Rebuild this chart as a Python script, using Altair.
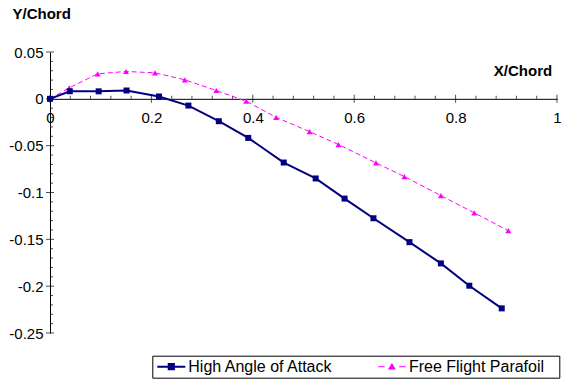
import altair as alt
import pandas as pd

NAVY = "#000080"
MAGENTA = "#FF00FF"
FONT = "Liberation Sans"

series_names = ["High Angle of Attack", "Free Flight Parafoil"]

x_hi = [0, 0.039, 0.096, 0.151, 0.215, 0.273, 0.333, 0.391, 0.461, 0.524,
        0.581, 0.638, 0.709, 0.771, 0.827, 0.891]
y_hi = [0, 0.0081, 0.0080, 0.0089, 0.0025, -0.0072, -0.0239, -0.0417, -0.0680,
        -0.0850, -0.1065, -0.1275, -0.1530, -0.1757, -0.1995, -0.2237]

x_ff = [0, 0.038, 0.094, 0.150, 0.207, 0.266, 0.328, 0.387, 0.446, 0.512,
        0.569, 0.643, 0.699, 0.771, 0.837, 0.904]
y_ff = [0, 0.0118, 0.0267, 0.0292, 0.0278, 0.0203, 0.0089, -0.0026, -0.0197,
        -0.0350, -0.0488, -0.0684, -0.0830, -0.1033, -0.1218, -0.1407]

x_major = [0, 0.2, 0.4, 0.6, 0.8, 1]
x_minor = [0.04, 0.08, 0.12, 0.16, 0.24, 0.28, 0.32, 0.36, 0.44, 0.48, 0.52, 0.56,
           0.64, 0.68, 0.72, 0.76, 0.84, 0.88, 0.92, 0.96]
y_major = [0.05, 0, -0.05, -0.1, -0.15, -0.2, -0.25]
y_minor = [0.04, 0.03, 0.02, 0.01, -0.01, -0.02, -0.03, -0.04, -0.06, -0.07, -0.08,
           -0.09, -0.11, -0.12, -0.13, -0.14, -0.16, -0.17, -0.18, -0.19, -0.21,
           -0.22, -0.23, -0.24]

hi = pd.DataFrame({"x": x_hi, "y": y_hi, "series": series_names[0]})
ff = pd.DataFrame({"x": x_ff, "y": y_ff, "series": series_names[1]})
both = pd.concat([hi, ff], ignore_index=True)

xt_major = pd.DataFrame({"x": x_major, "y": 0.0})
xt_minor = pd.DataFrame({"x": x_minor, "y": 0.0})
yt_major = pd.DataFrame({"x": 0.0, "y": y_major})
yt_minor = pd.DataFrame({"x": 0.0, "y": y_minor})

W, H = 507, 281
Y_LO, Y_HI = -0.25, 0.05
x_offset = -(H - H * (Y_HI / (Y_HI - Y_LO)))

xs = alt.Scale(domain=[0, 1], nice=False, zero=False)
ys = alt.Scale(domain=[Y_LO, Y_HI], nice=False, zero=False)

xaxis = alt.Axis(
    values=x_major, format="~g", grid=False, ticks=False, tickSize=0,
    domainColor="black", domainWidth=1,
    labelFont=FONT, labelFontSize=15, labelColor="black", labelPadding=12,
    labelFlush=False, labelOverlap=False, offset=x_offset,
    title="X/Chord", titleFont=FONT, titleFontSize=15, titleFontWeight="bold",
    titleColor="black", titleAlign="right", titleBaseline="middle",
    titleX=501.7, titleY=-28,
)
yaxis = alt.Axis(
    values=y_major,
    labelExpr="datum.value == 0 ? '0' : (datum.value < 0 ? '-' : '') + format(abs(datum.value), '~g')",
    grid=False, ticks=False, tickSize=0, domainColor="black", domainWidth=1,
    labelFont=FONT, labelFontSize=15, labelColor="black", labelPadding=7,
    labelFlush=False, labelOverlap=False,
    title="Y/Chord", titleFont=FONT, titleFontSize=15, titleFontWeight="bold",
    titleColor="black", titleAngle=0, titleAlign="left", titleBaseline="middle",
    titleX=-38, titleY=-39,
)

X = alt.X("x:Q", scale=xs, axis=xaxis)
Y = alt.Y("y:Q", scale=ys, axis=yaxis)

line_hi = alt.Chart(hi).mark_line(color=NAVY, strokeWidth=2).encode(x=X, y=Y)
pts_hi = alt.Chart(hi).mark_square(color=NAVY, size=36, opacity=1).encode(x=X, y=Y)
line_ff = alt.Chart(ff).mark_line(color=MAGENTA, strokeWidth=1, strokeDash=[5, 3]).encode(x=X, y=Y)
pts_ff = alt.Chart(ff).mark_point(shape="triangle-up", filled=True, color=MAGENTA,
                                   size=36, opacity=1).encode(x=X, y=Y)

tick_xM = alt.Chart(xt_major).mark_tick(orient="vertical", size=8, thickness=1,
                                        color="black").encode(x=X, y=Y)
tick_xm = alt.Chart(xt_minor).mark_tick(orient="vertical", size=3, thickness=1,
                                        color="black", yOffset=-1.5).encode(x=X, y=Y)
tick_yM = alt.Chart(yt_major).mark_tick(orient="horizontal", size=8, thickness=1,
                                        color="black").encode(x=X, y=Y)
tick_ym = alt.Chart(yt_minor).mark_tick(orient="horizontal", size=3, thickness=1,
                                        color="black", xOffset=1.5).encode(x=X, y=Y)

path_hi = "M-3.5,0H3.5M-0.65,-0.65H0.65V0.65H-0.65Z"
path_ff = "M-3.4,0H-1.8M1.8,0H3.4M0,-0.75L0.8,0.6H-0.8Z"

leg = alt.Legend(
    title=None, orient="none", legendX=102.3, legendY=303.7,
    direction="horizontal", columns=2, gridAlign="all",
    strokeColor="black", padding=3, symbolSize=64, symbolOffset=8,
    labelOffset=9, labelFont=FONT, labelFontSize=16, labelColor="black",
    columnPadding=39.6, labelLimit=300,
    labelExpr="datum.value == 'Free Flight Parafoil' ? datum.label + '\u2800' : datum.label",
)
legend_layer = alt.Chart(both).transform_filter("false").mark_point(
    filled=True, opacity=1
).encode(
    x=X, y=Y,
    fill=alt.Fill("series:N", scale=alt.Scale(domain=series_names, range=[NAVY, MAGENTA]), legend=leg),
    stroke=alt.Stroke("series:N", scale=alt.Scale(domain=series_names, range=[NAVY, MAGENTA]), legend=leg),
    shape=alt.Shape("series:N", scale=alt.Scale(domain=series_names, range=[path_hi, path_ff]), legend=leg),
    strokeWidth=alt.StrokeWidth("series:N", scale=alt.Scale(domain=series_names, range=[2, 1]), legend=leg),
)

chart = alt.layer(
    tick_xm, tick_xM, tick_ym, tick_yM,
    line_ff, pts_ff, line_hi, pts_hi, legend_layer,
).properties(
    width=W, height=H,
    autosize=alt.AutoSizeParams(type="none"),
    padding={"left": 50, "top": 52, "right": 4, "bottom": 49},
).configure_view(stroke=None)

chart.save("out.html", embed_options={"renderer": "svg", "actions": False})
